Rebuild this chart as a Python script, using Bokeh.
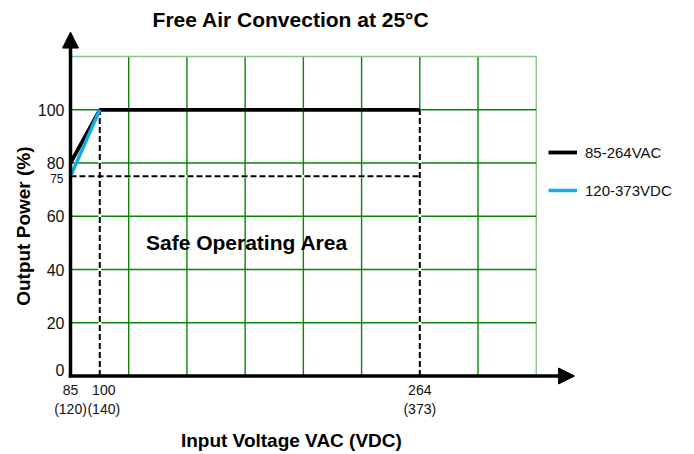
import math
from bokeh.plotting import figure
from bokeh.models import Range1d, Arrow, NormalHead, Legend, LegendItem
from bokeh.core.properties import value
from bokeh.embed import file_html
from bokeh.resources import INLINE

# ---------------- data ----------------
vac_x = [85, 100, 264]
vac_y = [80, 100, 100]
vdc_x = [85, 100]
vdc_y = [75, 100]

y_ticks = [0, 20, 40, 60, 80, 100]
y_extra_tick = 75
x_ticks = [85, 100, 264]
x_labels_vac = ["85", "100", "264"]
x_labels_vdc = ["(120)", "(140)", "(373)"]
y_grid_max = 120
x_grid_cells = 8          # grid cells horizontally
x_grid_cells_to_264 = 6   # 264 sits on the 6th grid line

title_text = "Free Air Convection at 25°C"
x_title = "Input Voltage VAC (VDC)"
y_title = "Output Power (%)"
area_text = "Safe Operating Area"
legend_labels = ["85-264VAC", "120-373VDC"]

# ---------------- styles ----------------
FONT = value("Liberation Sans")
GRID = "#0a850a"
GRID_LIGHT = "#86c886"
BLUE = "#14abec"

p = figure(width=694, height=454, output_backend="svg", toolbar_location=None,
           x_range=Range1d(49.13, 404.77), y_range=Range1d(-29.49, 141.06),
           x_axis_location=None, y_axis_location=None, min_border=0,
           outline_line_color=None, background_fill_color="white",
           border_fill_color="white")
p.grid.visible = False

# grid
step = (x_ticks[2] - x_ticks[0]) / x_grid_cells_to_264
xg = [x_ticks[0] + k * step for k in range(x_grid_cells + 1)]
yg = list(range(0, y_grid_max + 1, 20))
vcol = [GRID] * (len(xg) - 1) + [GRID_LIGHT]
hcol = [GRID] * (len(yg) - 1) + [GRID_LIGHT]
p.segment(x0=xg, y0=[0] * len(xg), x1=xg, y1=[y_grid_max] * len(xg),
          line_color=vcol, line_width=1.4)
p.segment(x0=[xg[0]] * len(yg), y0=yg, x1=[xg[-1]] * len(yg), y1=yg,
          line_color=hcol, line_width=1.4)

# dashed guides
dx0 = [vac_x[1], vac_x[2], vac_x[0]]
dy0 = [0, 0, vdc_y[0]]
dx1 = [vac_x[1], vac_x[2], vac_x[2]]
dy1 = [vac_y[1], vac_y[2], vdc_y[0]]
p.segment(x0=dx0, y0=dy0, x1=dx1, y1=dy1, line_color="white", line_width=2.8)
p.segment(x0=dx0, y0=dy0, x1=dx1, y1=dy1, line_color="black", line_width=2,
          line_dash="6 3")

# data lines
r_vac = p.line(vac_x, vac_y, line_color="black", line_width=3.8)
r_vdc = p.line(vdc_x, vdc_y, line_color=BLUE, line_width=3.5)

# axes with arrows
p.add_layout(Arrow(x_start=xg[0], y_start=-0.6, x_end=xg[0], y_end=129.2,
                   line_width=3.5, line_color="black",
                   end=NormalHead(size=16, fill_color="black", line_color="black", line_width=1)))
p.add_layout(Arrow(x_start=xg[0] - 0.9, y_start=0, x_end=343.3, y_end=0,
                   line_width=3.5, line_color="black",
                   end=NormalHead(size=16, fill_color="black", line_color="black", line_width=1)))

# y tick labels
y_off = [-6 if v == 0 else 0 for v in y_ticks]
p.text(x=[xg[0]] * len(y_ticks), y=y_ticks, text=[str(v) for v in y_ticks],
       x_offset=-6, y_offset=y_off, text_align="right", text_baseline="middle",
       text_font=FONT, text_font_size="16px", text_color="#111111")
p.text(x=[xg[0]], y=[y_extra_tick], text=[str(y_extra_tick)],
       x_offset=-7, y_offset=2, text_align="right", text_baseline="middle",
       text_font=FONT, text_font_size="12px", text_color="#111111")

# x tick labels
x_off = [0, 4, 0]
p.text(x=x_ticks, y=[0] * 3, text=x_labels_vac, x_offset=x_off, y_offset=14.5,
       text_align="center", text_baseline="middle",
       text_font=FONT, text_font_size="14px", text_color="#111111")
p.text(x=x_ticks, y=[0] * 3, text=x_labels_vdc, x_offset=x_off, y_offset=33,
       text_align="center", text_baseline="middle",
       text_font=FONT, text_font_size="14px", text_color="#111111")

# titles
p.text(x=[198], y=[133.8], text=[title_text], text_align="center", text_baseline="middle",
       text_font=FONT, text_font_style="bold", text_font_size="21px", text_color="black")
p.text(x=[198.2], y=[-24.4], text=[x_title], text_align="center", text_baseline="middle",
       text_font=FONT, text_font_style="bold", text_font_size="19px", text_color="black")
p.text(x=[60.9], y=[56.3], text=[y_title], angle=math.pi / 2, text_align="center",
       text_baseline="middle",
       text_font=FONT, text_font_style="bold", text_font_size="19px", text_color="black")
p.text(x=[175.4], y=[50.2], text=[area_text], text_align="center", text_baseline="middle",
       text_font=FONT, text_font_style="bold", text_font_size="21px", text_color="black")

# legend
legend = Legend(items=[LegendItem(label=legend_labels[0], renderers=[r_vac]),
                       LegendItem(label=legend_labels[1], renderers=[r_vdc])],
                location=(548, 254), padding=0, margin=0, spacing=18,
                glyph_width=29, glyph_height=20, label_height=20, label_standoff=8,
                label_text_font="Liberation Sans", label_text_font_size="15px",
                label_text_color="#111111",
                border_line_alpha=0, background_fill_alpha=0)
p.add_layout(legend)

open("out.html", "w").write(file_html(p, INLINE))
